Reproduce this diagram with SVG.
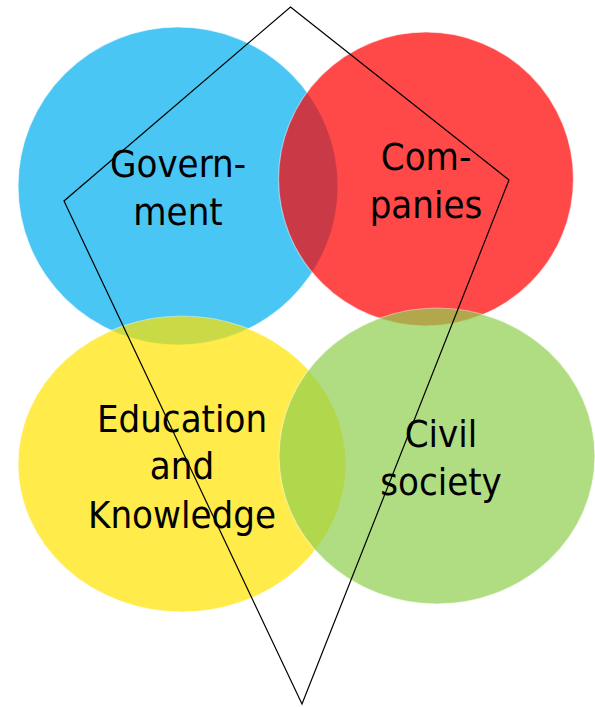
<svg xmlns="http://www.w3.org/2000/svg" width="595" height="707" viewBox="0 0 595 707">
<style>
.c{stroke:#ffffff;stroke-opacity:0.6;stroke-width:1.2;opacity:0.71}
.t{font-family:"DejaVu Sans Condensed","DejaVu Sans",sans-serif;font-size:38px;fill:#000;text-anchor:middle}
.ln{fill:none;stroke:#000;stroke-width:1.2;stroke-linejoin:miter}
</style>
<rect width="595" height="707" fill="#fff"/>
<g id="government">
<ellipse class="c" cx="178" cy="186" rx="160" ry="159" fill="#00B0F0"/>
</g>
<g id="companies">
<ellipse class="c" cx="426" cy="179" rx="147.5" ry="147" fill="#FF0000"/>
</g>
<g id="education">
<ellipse class="c" cx="182" cy="464" rx="164" ry="148" fill="#FFE300"/>
</g>
<g id="civil-society">
<ellipse class="c" cx="437" cy="456" rx="158" ry="148" fill="#92D050"/>
</g>
<g id="labels">
<text class="t" x="178" y="177">Govern-</text>
<text class="t" x="178" y="225">ment</text>
<text class="t" x="426" y="170">Com-</text>
<text class="t" x="426" y="218">panies</text>
<text class="t" x="182" y="432">Education</text>
<text class="t" x="182" y="479">and</text>
<text class="t" x="182" y="528">Knowledge</text>
<text class="t" x="441" y="447">Civil</text>
<text class="t" x="441" y="495">society</text>
</g>
<g id="connectors">
<polygon class="ln" points="290.5,7 509,180 302,704 64,201"/>
</g>
</svg>
